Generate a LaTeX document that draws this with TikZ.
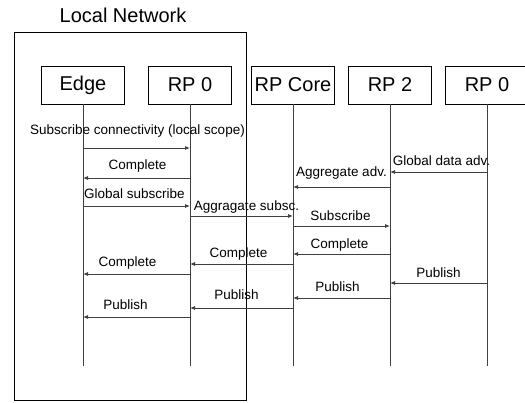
\documentclass[tikz,border=0pt]{standalone}
\usepackage{fontspec}
\setmainfont{Liberation Sans}
\usepackage{tikz}
\usetikzlibrary{arrows.meta}

\begin{document}
\begin{tikzpicture}[x=1pt,y=-1pt]
\tikzstyle{actor} = [draw,line width=0.8pt,minimum width=83pt,minimum height=38pt,inner sep=0pt,font=\fontsize{20}{24}\selectfont]
\tikzstyle{life} = [draw=black!75,line width=0.8pt]
\tikzstyle{msg} = [draw=black!75,line width=0.8pt,-{Latex[length=5pt,width=4pt]}]
\tikzstyle{lbl} = [inner sep=0pt,text height=9.7pt,text depth=0pt,font=\fontsize{13.5}{16}\selectfont]

\useasboundingbox (0,0) rectangle (525,403);

% local network frame
\node[font=\fontsize{20}{24}\selectfont] (title) at (123,15) {Local Network};
\draw[line width=0.8pt] (14,32) rectangle (246,400);

\node[actor] (edge) at (83,85) {Edge};
\node[actor] (rp0) at (190,85) {RP 0};
\node[actor] (core) at (293,85) {RP Core};
\node[actor] (rp2) at (390,85) {RP 2};
\node[actor] (rp0r) at (487,85) {RP 0};

\coordinate (bottom) at (0,366);
\foreach \n in {edge,rp0,core,rp2,rp0r}
  \draw[life] (\n.south) -- (\n |- bottom);

% messages: from/to/y/label shift x/label shift y/text
\foreach \a/\b/\y/\dx/\dy/\t in {
  edge/rp0/148/1/18/Subscribe connectivity (local scope),
  rp0/edge/178/1/13/Complete,
  edge/rp0/206/-2/12/Global subscribe,
  rp0/core/216/5/10/Aggragate subsc.,
  rp0r/rp2/172/3/11/Global data adv.,
  rp2/core/187/0/15/Aggregate adv.,
  core/rp2/226/-1/10/Subscribe,
  rp2/core/254/-2/10/Complete,
  core/rp0/264/-3/11/Complete,
  rp0/edge/274/-9/12/Complete,
  rp0r/rp2/283/0/10/Publish,
  rp2/core/298/-4/11/Publish,
  core/rp0/308/-5/13/Publish,
  rp0/edge/317/-11/12/Publish}
{
  \coordinate (row) at (0,\y);
  \draw[msg] (\a |- row) -- (\b |- row)
    node[lbl,midway,xshift=\dx pt,yshift=\dy pt] {\t};
}
\end{tikzpicture}
\end{document}
